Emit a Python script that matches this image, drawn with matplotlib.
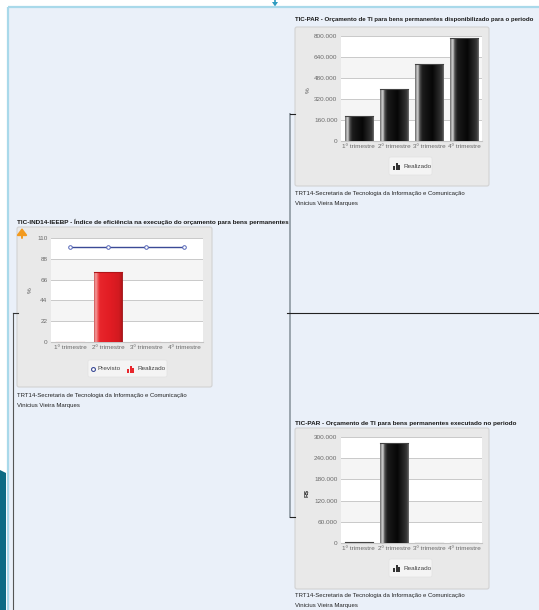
import matplotlib
matplotlib.use('Agg')
import matplotlib.pyplot as plt
import numpy as np
from matplotlib import font_manager
from matplotlib.patches import Rectangle, FancyBboxPatch, Polygon
from matplotlib.colors import LinearSegmentedColormap

# ---------------- data ----------------
quarters = ['1º trimestre', '2º trimestre', '3º trimestre', '4º trimestre']
disp_values = [194000, 393000, 585000, 781000]      # disponibilizado (R$)
exec_values = [1500, 283000, 0, 0]                  # executado (R$)
ind_previsto = [100, 100, 100, 100]                 # índice previsto (%)
ind_realizado = [0, 74, 0, 0]                       # índice realizado (%)
disp_ticks = [0, 160000, 320000, 480000, 640000, 800000]
exec_ticks = [0, 60000, 120000, 180000, 240000, 300000]
ind_ticks = [0, 22, 44, 66, 88, 110]

title_disp = 'TIC-PAR - Orçamento de TI para bens permanentes disponibilizado para o periodo'
title_exec = 'TIC-PAR - Orçamento de TI para bens permanentes executado no periodo'
title_ind = 'TIC-IND14-IEEBP - Índice de eficiência na execução do orçamento para bens permanentes'
footer1 = 'TRT14-Secretaria de Tecnologia da Informação e Comunicação'
footer2 = 'Vinicius Vieira Marques'

# ---------------- fonts ----------------
avail = {f.name for f in font_manager.fontManager.ttflist}
FONT = None
for cand in ['Liberation Sans Narrow', 'Liberation Sans', 'DejaVu Sans']:
    if cand in avail:
        FONT = cand
        break
plt.rcParams['font.family'] = [FONT, 'DejaVu Sans']

TS = 4.55   # title size
TSA = 4.4   # title size of the top-right chart (must fit the figure)
LS = 4.6    # label size
FS = 4.35   # footer size

W, H = 539, 610
fig = plt.figure(figsize=(W / 100, H / 100), dpi=100)
fig.patch.set_facecolor('white')

bg = fig.add_axes([0, 0, 1, 1])
bg.set_xlim(0, W)
bg.set_ylim(H, 0)
bg.axis('off')


def px_axes(x0, y0, x1, y1):
    return fig.add_axes([x0 / W, 1 - y1 / H, (x1 - x0) / W, (y1 - y0) / H])


# ---------------- background decoration ----------------
bg.add_patch(Rectangle((8, 7), W - 8, H - 7, fc='#eaf0f9', ec='none'))
bg.plot([8, 8], [7, H], color='#a9d9ea', lw=1.6, solid_capstyle='butt')
bg.plot([8, W], [7, 7], color='#a9d9ea', lw=1.6, solid_capstyle='butt')
bg.plot([275, 275], [0, 4], color='#2e9cc0', lw=1.2)
bg.add_patch(Polygon([(272, 2), (278, 2), (275, 6.5)], closed=True, fc='#2e9cc0', ec='none'))
bg.add_patch(Polygon([(0, 470), (6, 473), (6, H), (0, H)], closed=True, fc='#0b6b84', ec='none'))

# connectors
bg.plot([13, 13], [313, H], color='#555555', lw=0.8)
bg.plot([13, 18], [313, 313], color='#333333', lw=0.8)
bg.plot([290, 290], [114, 517], color='#9aa4ad', lw=1.4)
bg.plot([290, 295], [114, 114], color='#222222', lw=0.8)
bg.plot([290, 295], [517, 517], color='#222222', lw=0.8)
bg.plot([287, W], [313, 313], color='#222222', lw=0.8)

# ---------------- helpers ----------------
dark_cmap = LinearSegmentedColormap.from_list('dark', [
    (0.0, '#606060'), (0.05, '#a8a8a8'), (0.1, '#e0e0e0'), (0.15, '#5a5a5a'),
    (0.25, '#1c1c1c'), (0.6, '#060606'), (0.85, '#2a2a2a'), (0.94, '#3c3c3c'), (1.0, '#7a7a7a')])
red_cmap = LinearSegmentedColormap.from_list('red', [
    (0.0, '#c84444'), (0.06, '#f7a8a8'), (0.12, '#f06868'), (0.2, '#e8262c'),
    (0.6, '#e11c23'), (0.9, '#d21a20'), (1.0, '#b01418')])


def panel(x0, y0, x1, y1):
    bg.add_patch(FancyBboxPatch((x0, y0), x1 - x0, y1 - y0,
                                boxstyle='round,pad=0,rounding_size=2',
                                fc='#e9e9e9', ec='#d2d2d2', lw=0.8))


def fmt(v):
    return f'{v:,.0f}'.replace(',', '.')


def style_axes(ax, ticks, labels):
    ax.set_facecolor('white')
    ax.set_xlim(-0.5, len(quarters) - 0.5)
    ax.set_ylim(ticks[0], ticks[-1])
    for i in range(len(ticks) - 1):
        if i % 2 == 1:
            ax.axhspan(ticks[i], ticks[i + 1], color='#f5f5f5', zorder=0, lw=0)
    ax.set_yticks(ticks)
    ax.set_yticklabels(labels)
    ax.set_xticks(range(len(quarters)))
    ax.set_xticklabels(quarters)
    for t in ticks[1:]:
        ax.axhline(t, color='#c9c9c9', lw=0.7, zorder=1)
    for s in ['top', 'right', 'left']:
        ax.spines[s].set_visible(False)
    ax.spines['bottom'].set_color('#c4c4c4')
    ax.spines['bottom'].set_linewidth(0.8)
    ax.tick_params(length=0, labelsize=LS, labelcolor='#6a6a6a', pad=2.5)


def gradient_bars(ax, values, width, cmap, edge, zero_color):
    bars = ax.bar(range(len(values)), values, width=width, color='#111111',
                  edgecolor=edge, linewidth=0.6, zorder=3)
    grad = np.linspace(0, 1, 256).reshape(1, -1)
    for b, v in zip(bars, values):
        x = b.get_x()
        w = b.get_width()
        if v > 0:
            im = ax.imshow(grad, cmap=cmap, aspect='auto', extent=[x, x + w, 0, v],
                           zorder=4, interpolation='bicubic')
            im.set_clip_path(b)
            ax.plot([x, x + w], [v, v], color=edge, lw=0.8, zorder=5)
        else:
            ax.plot([x, x + w], [0, 0], color=zero_color, lw=1.0, zorder=5)
    return bars


def legend_box(x0, y0, x1, y1):
    bg.add_patch(FancyBboxPatch((x0, y0), x1 - x0, y1 - y0,
                                boxstyle='round,pad=0,rounding_size=2',
                                fc='#f4f4f4', ec='#e2e2e2', lw=0.5))


def bar_icon(x, y, color):
    # small bar-chart style legend icon (x, y = lower-left)
    bg.add_patch(Rectangle((x, y - 4), 2.2, 4, fc=color, ec='none'))
    bg.add_patch(Rectangle((x + 2.6, y - 7), 2.2, 7, fc=color, ec='none'))
    bg.add_patch(Rectangle((x + 5.2, y - 5), 2.2, 5, fc=color, ec='none'))


# ---------------- chart A: disponibilizado ----------------
bg.text(295, 20, title_disp, fontsize=TSA, fontweight='bold', color='#1a1a1a', va='center', ha='left')
panel(295, 27, 489, 186)
axA = px_axes(341, 36, 482, 141)
style_axes(axA, disp_ticks, [fmt(t) for t in disp_ticks])
gradient_bars(axA, disp_values, 0.8, dark_cmap, '#444444', '#999999')
axA.set_xlim(-0.5, 3.5)
axA.set_ylim(disp_ticks[0], disp_ticks[-1])
bg.text(308, 90, '%', rotation=90, fontsize=LS, color='#555555', ha='center', va='center')
legend_box(389, 157, 432, 175)
bar_icon(393, 170, '#333333')
bg.text(403, 166, 'Realizado', fontsize=LS, color='#444444', va='center', ha='left')
bg.text(295, 193, footer1, fontsize=FS, color='#222222', va='center')
bg.text(295, 203, footer2, fontsize=FS, color='#222222', va='center')

# ---------------- chart C: executado ----------------
bg.text(295, 423, title_exec, fontsize=TS, fontweight='bold', color='#1a1a1a', va='center', ha='left')
panel(295, 428, 489, 589)
axC = px_axes(341, 437, 482, 543)
style_axes(axC, exec_ticks, [fmt(t) for t in exec_ticks])
gradient_bars(axC, exec_values, 0.8, dark_cmap, '#444444', '#b0b0b0')
axC.set_xlim(-0.5, 3.5)
axC.set_ylim(exec_ticks[0], exec_ticks[-1])
bg.text(307, 493, 'R$', rotation=90, fontsize=LS, fontweight='bold', color='#333333', ha='center', va='center')
legend_box(389, 559, 432, 577)
bar_icon(393, 572, '#333333')
bg.text(403, 568, 'Realizado', fontsize=LS, color='#444444', va='center', ha='left')
bg.text(295, 596, footer1, fontsize=FS, color='#222222', va='center')
bg.text(295, 606, footer2, fontsize=FS, color='#222222', va='center')

# ---------------- chart B: índice ----------------
bg.text(17, 222, title_ind, fontsize=TS, fontweight='bold', color='#1a1a1a', va='center', ha='left')
panel(17, 227, 212, 387)
bg.annotate('', xy=(22, 228), xytext=(22, 238),
            arrowprops=dict(arrowstyle='-|>,head_width=0.3,head_length=0.4', color='#f39a1e',
                            lw=1.4, shrinkA=0, shrinkB=0))
axB = px_axes(51, 238, 203, 342)
style_axes(axB, ind_ticks, [str(t) for t in ind_ticks])
gradient_bars(axB, ind_realizado, 0.73, red_cmap, '#b01418', '#f2c4c4')
axB.plot(range(len(ind_previsto)), ind_previsto, color='#3b4a96', lw=1.0, marker='o',
         ms=2.6, mfc='white', mec='#5566b8', mew=0.7, zorder=6)
axB.set_xlim(-0.5, 3.5)
axB.set_ylim(ind_ticks[0], ind_ticks[-1])
bg.text(30, 290, '%', rotation=90, fontsize=LS, color='#555555', ha='center', va='center')
legend_box(88, 360, 167, 377)
bg.plot([93], [368.5], marker='o', ms=2.8, mfc='white', mec='#3b4a96', mew=0.8)
bg.text(97, 368.5, 'Previsto', fontsize=LS, color='#444444', va='center', ha='left')
bar_icon(127, 373, '#e8262c')
bg.text(137, 368.5, 'Realizado', fontsize=LS, color='#444444', va='center', ha='left')
bg.text(17, 395, footer1, fontsize=FS, color='#222222', va='center')
bg.text(17, 405, footer2, fontsize=FS, color='#222222', va='center')

fig.savefig('out.png', dpi=100)
